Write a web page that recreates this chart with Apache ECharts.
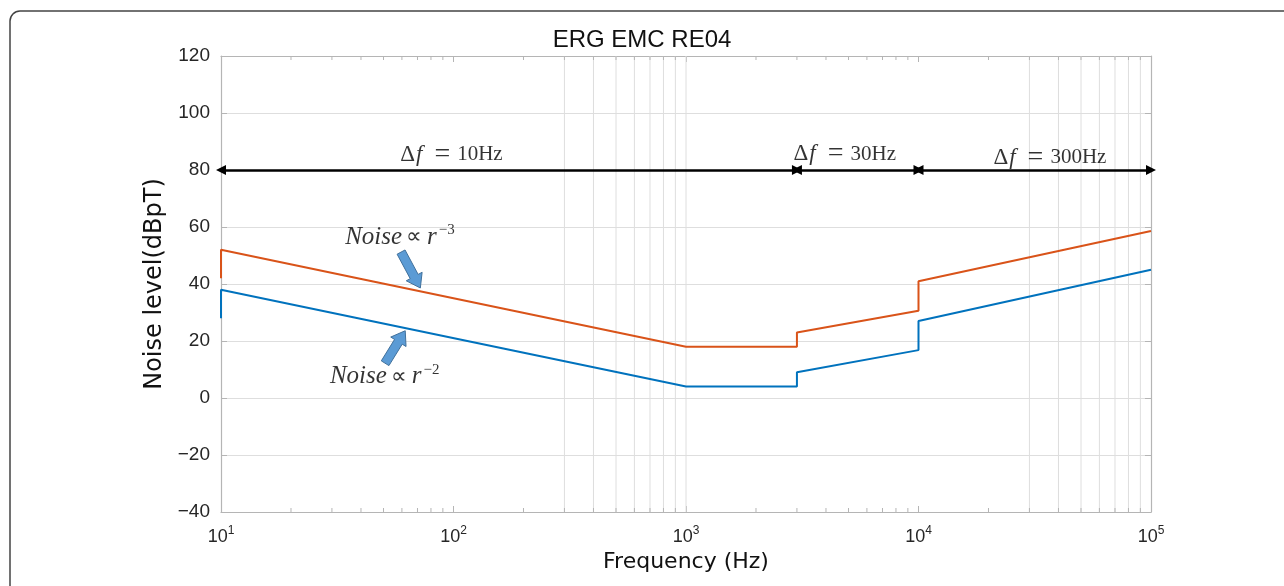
<!DOCTYPE html>
<html>
<head>
<meta charset="utf-8">
<title>ERG EMC RE04</title>
<script src="https://cdn.jsdelivr.net/npm/echarts@6/dist/echarts.min.js"></script>
<style>
  html, body { margin: 0; padding: 0; background: #fff; }
  #chart { width: 1284px; height: 586px; }
</style>
</head>
<body>
<div id="chart"></div>
<script>
// noise limit curves, [frequency Hz, level dBpT]
var noiseR3 = [[10, 42], [10, 52], [1000, 18], [3000, 18], [3000, 23], [10000, 30.6], [10000, 41], [100000, 58.6]];
var noiseR2 = [[10, 28], [10, 38], [1000, 4], [3000, 4], [3000, 9], [10000, 16.8], [10000, 27], [100000, 45]];

// delta-f bands (double arrows at 80 dBpT)
var bandEdges = [[10, 3000], [3000, 10000], [10000, 100000]];
var bandLevel = 80;
var bandValues = ['10Hz', '30Hz', '300Hz'];
var bandTextPos = [[59, 85.3], [2900, 85.6], [21000, 84.4]];

// curve notes and the block arrows pointing at them [tailF, tailY, headF, headY]
var noteExp = ['−3', '−2'];
var notePos = [[34.2, 56.4], [29.4, 7.4]];
var pointerArrows = [[59.5, 51.2, 72, 38.6], [50.8, 12.2, 62, 23.6]];

// axis decorations
var minorTicks = [];
[10, 100, 1000, 10000].forEach(function (d) {
  for (var k = 2; k <= 9; k++) minorTicks.push(d * k);
});
var gridFreqs = [300, 400, 500, 600, 700, 800, 900, 1000, 30000, 40000, 50000, 60000, 70000, 80000, 90000];

var yMin = -40, yMax = 120;
var frameColor = '#b5b5b5';
var gridColor = '#dedede';
var sans = '"Liberation Sans", Arial, sans-serif';
var wide = '"DejaVu Sans", "Liberation Sans", sans-serif';
var serif = '"Liberation Serif", "Times New Roman", serif';

var chart = echarts.init(document.getElementById('chart'));

var bandRich = {
  d: { fontFamily: serif, fontSize: 23, color: '#000' },
  i: { fontFamily: serif, fontSize: 23, fontStyle: 'italic', color: '#000', padding: [0, 12, 0, 1] },
  e: { fontFamily: serif, fontSize: 28, color: '#000', padding: [0, 7, 0, 0] },
  n: { fontFamily: serif, fontSize: 21, color: '#000' }
};
var noteRich = {
  i: { fontFamily: serif, fontSize: 25, fontStyle: 'italic', color: '#000' },
  p: { fontFamily: serif, fontSize: 22, color: '#000', padding: [0, 5, 0, 4] },
  sup: { fontFamily: serif, fontSize: 15, color: '#000', padding: [0, 0, 14, 2] }
};

var option = {
  animation: false,
  backgroundColor: '#fff',
  title: {
    text: 'ERG EMC RE04',
    left: 'center',
    top: 23,
    textStyle: { fontFamily: sans, fontSize: 24, fontWeight: 'normal', color: '#111' }
  },
  grid: { left: 221, right: 133, top: 56, bottom: 74, outerBoundsMode: 'none' },
  graphic: [{
    type: 'rect',
    shape: { x: 10, y: 11, width: 1300, height: 620, r: 10 },
    style: { fill: 'none', stroke: '#444', lineWidth: 1.5 },
    silent: true
  }],
  xAxis: [{
    type: 'log',
    logBase: 10,
    min: 10,
    max: 100000,
    name: 'Frequency (Hz)',
    nameLocation: 'middle',
    nameGap: 37,
    nameTextStyle: { fontFamily: wide, fontSize: 22, color: '#111' },
    axisLine: { onZero: false, lineStyle: { color: frameColor, width: 1.2 } },
    axisTick: { inside: true, length: 6, lineStyle: { color: frameColor } },
    splitLine: { show: false },
    axisLabel: {
      margin: 13,
      color: '#262626',
      fontFamily: sans,
      fontSize: 18,
      formatter: function (v) { return '10{sup|' + Math.round(Math.log10(v)) + '}'; },
      rich: { sup: { fontFamily: sans, fontSize: 12, color: '#262626', padding: [0, 0, 13, 0] } }
    }
  }, {
    type: 'log',
    logBase: 10,
    min: 10,
    max: 100000,
    position: 'top',
    axisLine: { onZero: false, lineStyle: { color: frameColor, width: 1.2 } },
    axisTick: { inside: true, length: 6, lineStyle: { color: frameColor } },
    axisLabel: { show: false },
    splitLine: { show: false }
  }],
  yAxis: [{
    type: 'value',
    min: yMin,
    max: yMax,
    interval: 20,
    name: 'Noise level(dBpT)',
    nameLocation: 'middle',
    nameGap: 51,
    nameTextStyle: { fontFamily: wide, fontSize: 24, color: '#111' },
    axisLine: { show: true, lineStyle: { color: frameColor, width: 1.2 } },
    axisTick: { show: true, inside: true, length: 6, lineStyle: { color: frameColor } },
    axisLabel: {
      margin: 11,
      color: '#262626',
      fontFamily: sans,
      fontSize: 19,
      formatter: function (v) { return v < 0 ? '\u2212' + (-v) : String(v); }
    },
    splitLine: { show: true, lineStyle: { color: gridColor, width: 1 } }
  }, {
    type: 'value',
    min: yMin,
    max: yMax,
    interval: 20,
    position: 'right',
    axisLine: { show: true, lineStyle: { color: frameColor, width: 1.2 } },
    axisTick: { show: true, inside: true, length: 6, lineStyle: { color: frameColor } },
    axisLabel: { show: false },
    splitLine: { show: false }
  }],
  series: [
    {
      // partial vertical grid of the log axis
      name: 'vgrid',
      type: 'custom',
      silent: true,
      z: 1,
      data: gridFreqs.map(function (f) { return [f, yMin]; }),
      renderItem: function (params, api) {
        var b = api.coord([api.value(0), yMin]);
        var t = api.coord([api.value(0), yMax]);
        return {
          type: 'line',
          shape: { x1: b[0], y1: b[1], x2: t[0], y2: t[1] },
          style: { stroke: gridColor, lineWidth: 1 }
        };
      }
    },
    {
      // minor ticks, bottom and top
      name: 'minor',
      type: 'custom',
      silent: true,
      z: 2,
      data: minorTicks.map(function (f) { return [f, yMin]; }),
      renderItem: function (params, api) {
        var b = api.coord([api.value(0), yMin]);
        var t = api.coord([api.value(0), yMax]);
        return {
          type: 'group',
          children: [
            { type: 'line', shape: { x1: b[0], y1: b[1], x2: b[0], y2: b[1] - 4 }, style: { stroke: frameColor, lineWidth: 1 } },
            { type: 'line', shape: { x1: t[0], y1: t[1], x2: t[0], y2: t[1] + 4 }, style: { stroke: frameColor, lineWidth: 1 } }
          ]
        };
      }
    },
    {
      name: 'Noise r^-3',
      type: 'line',
      data: noiseR3,
      showSymbol: false,
      z: 5,
      lineStyle: { color: '#D95319', width: 2 },
      itemStyle: { color: '#D95319' }
    },
    {
      name: 'Noise r^-2',
      type: 'line',
      data: noiseR2,
      showSymbol: false,
      z: 5,
      lineStyle: { color: '#0072BD', width: 2 },
      itemStyle: { color: '#0072BD' }
    },
    {
      // delta-f band arrows
      name: 'bands',
      type: 'line',
      data: [],
      z: 6,
      markLine: {
        silent: true,
        symbol: ['triangle', 'triangle'],
        symbolSize: 10,
        label: { show: false },
        lineStyle: { color: '#000', width: 2.5, type: 'solid' },
        data: bandEdges.map(function (e) {
          return [{ coord: [e[0], bandLevel] }, { coord: [e[1], bandLevel] }];
        })
      }
    },
    {
      name: 'bandText',
      type: 'scatter',
      symbolSize: 0,
      silent: true,
      z: 7,
      data: bandTextPos.map(function (p, i) {
        return { value: p, label: { formatter: '{d|Δ}{i|f}{e|=}{n|' + bandValues[i] + '}' } };
      }),
      label: { show: true, position: 'inside', align: 'left', verticalAlign: 'middle', rich: bandRich }
    },
    {
      name: 'noteText',
      type: 'scatter',
      symbolSize: 0,
      silent: true,
      z: 7,
      data: notePos.map(function (p, i) {
        return { value: p, label: { formatter: '{i|Noise}{p|∝}{i|r}{sup|' + noteExp[i] + '}' } };
      }),
      label: { show: true, position: 'inside', align: 'left', verticalAlign: 'middle', rich: noteRich }
    },
    {
      // blue block arrows pointing at the curves
      name: 'pointers',
      type: 'custom',
      silent: true,
      z: 8,
      data: pointerArrows,
      renderItem: function (params, api) {
        var a = api.coord([api.value(0), api.value(1)]);
        var b = api.coord([api.value(2), api.value(3)]);
        var dx = b[0] - a[0], dy = b[1] - a[1];
        var len = Math.sqrt(dx * dx + dy * dy);
        var ux = dx / len, uy = dy / len, nx = -uy, ny = ux;
        var hw = 4.5, hh = 9, hl = 13;
        var bx = b[0] - ux * hl, by = b[1] - uy * hl;
        var pts = [
          [a[0] + nx * hw, a[1] + ny * hw],
          [bx + nx * hw, by + ny * hw],
          [bx + nx * hh, by + ny * hh],
          [b[0], b[1]],
          [bx - nx * hh, by - ny * hh],
          [bx - nx * hw, by - ny * hw],
          [a[0] - nx * hw, a[1] - ny * hw]
        ];
        return {
          type: 'polygon',
          shape: { points: pts },
          style: { fill: '#5B9BD5', stroke: '#41719C', lineWidth: 1 }
        };
      }
    }
  ]
};

chart.setOption(option);
</script>
</body>
</html>
